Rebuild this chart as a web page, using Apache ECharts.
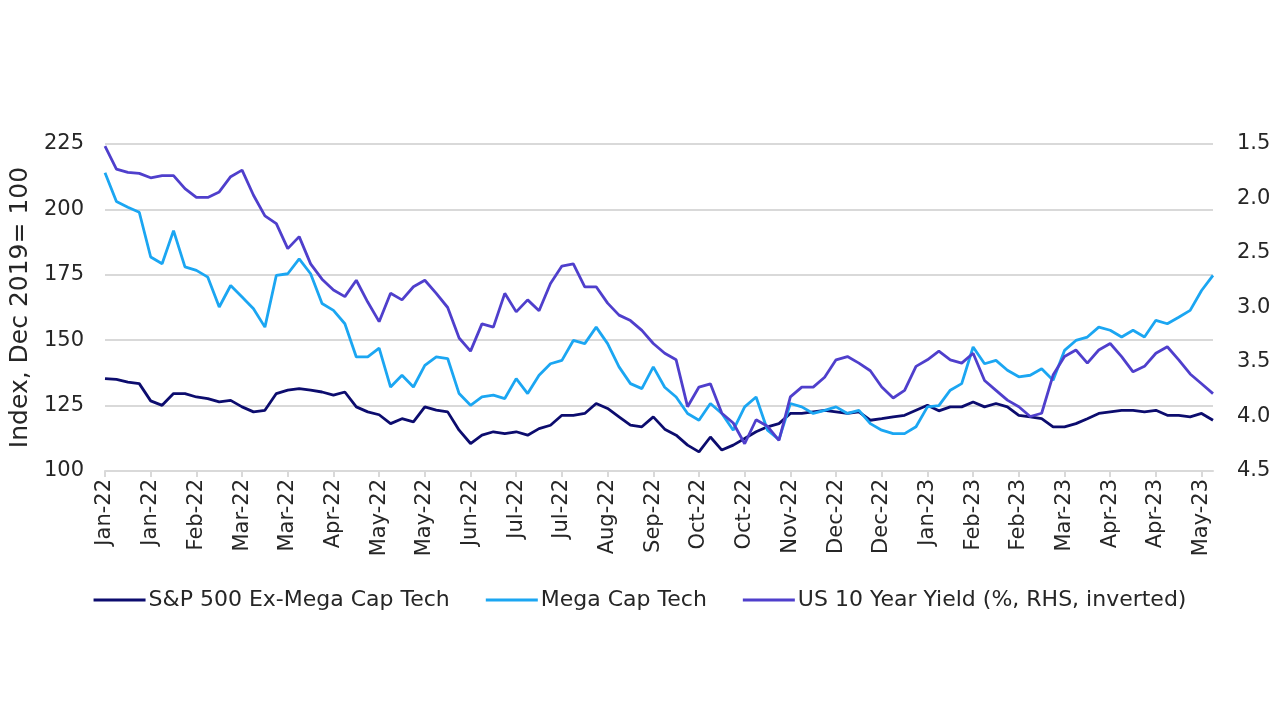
<!DOCTYPE html>
<html>
<head>
    <meta charset="UTF-8">
    <title>Mega Cap Tech vs US 10 Year Yield</title>
    <script src="https://cdn.jsdelivr.net/npm/echarts@6/dist/echarts.min.js"></script>
    <style>
        html, body { margin: 0; padding: 0; background: #ffffff; }
    </style>
</head>
<body>
<div id="main" style="width: 1280px;height:720px;"></div>
<script type="text/javascript">
    // tick labels, one every 4 points
    const tickLabels = ['Jan-22', 'Jan-22', 'Feb-22', 'Mar-22', 'Mar-22', 'Apr-22', 'May-22', 'May-22',
        'Jun-22', 'Jul-22', 'Jul-22', 'Aug-22', 'Sep-22', 'Oct-22', 'Oct-22', 'Nov-22', 'Dec-22',
        'Dec-22', 'Jan-23', 'Feb-23', 'Feb-23', 'Mar-23', 'Apr-23', 'Apr-23', 'May-23'];

    // S&P 500 Ex-Mega Cap Tech (left axis)
    const spExMega = [135.3, 135, 134, 133.4, 126.8, 125.1, 129.6, 129.6, 128.3, 127.7,
        126.4, 127, 124.5, 122.6, 123.2, 129.6, 130.9, 131.5, 130.9, 130.2,
        129, 130.2, 124.5, 122.6, 121.5, 118.1, 120, 118.8, 124.5, 123.3,
        122.6, 115.6, 110.5, 113.7, 115, 114.3, 115, 113.7, 116.2, 117.5,
        121.3, 121.3, 122, 125.8, 123.9, 120.7, 117.5, 116.9, 120.7, 116,
        113.7, 109.9, 107.3, 113, 108, 109.9, 112.4, 115, 116.9, 118.1,
        122, 122, 122.6, 123.2, 122.6, 122, 122.6, 119.4, 120, 120.7,
        121.3, 123.2, 125.1, 123, 124.5, 124.5, 126.4, 124.5, 125.8, 124.5,
        121.3, 120.7, 120, 116.9, 116.9, 118.1, 120, 122, 122.6, 123.2,
        123.2, 122.6, 123.2, 121.3, 121.3, 120.7, 122, 119.4];

    // Mega Cap Tech (left axis)
    const megaCap = [214, 203, 200.8, 198.9, 181.8, 179.2, 191.9, 178, 176.7, 174.1,
        162.7, 170.9, 166.5, 162, 155, 174.8, 175.4, 181.1, 175.4, 164,
        161.4, 156.3, 143.6, 143.6, 147, 132.1, 136.6, 132.1, 140.4, 143.6,
        143, 129.6, 125.1, 128.3, 129, 127.7, 135.3, 129.6, 136.6, 141,
        142.3, 149.9, 148.7, 155, 148.7, 139.8, 133.4, 131.5, 139.8, 132,
        128.3, 122, 119.4, 125.8, 122, 115.6, 124.5, 128.3, 115.6, 112,
        125.8, 124.5, 122, 123.2, 124.5, 122, 123.2, 118.1, 115.6, 114.3,
        114.3, 116.9, 124.5, 125, 130.9, 133.4, 147.4, 141, 142.3, 138.5,
        136, 136.6, 139.1, 134.7, 146.1, 149.9, 151.2, 155, 153.8, 151.2,
        153.8, 151.2, 157.6, 156.3, 158.8, 161.4, 169, 174.8];

    // US 10 Year Yield, % (right axis, inverted)
    const us10y = [1.52, 1.73, 1.76, 1.77, 1.81, 1.79, 1.79, 1.91, 1.99, 1.99,
        1.94, 1.80, 1.74, 1.97, 2.16, 2.23, 2.46, 2.35, 2.6, 2.74,
        2.84, 2.9, 2.75, 2.95, 3.13, 2.87, 2.93, 2.81, 2.75, 2.87,
        3.0, 3.28, 3.4, 3.15, 3.18, 2.87, 3.04, 2.93, 3.03, 2.78,
        2.62, 2.6, 2.81, 2.81, 2.96, 3.07, 3.12, 3.21, 3.33, 3.42,
        3.48, 3.91, 3.73, 3.7, 3.97, 4.06, 4.25, 4.03, 4.09, 4.22,
        3.82, 3.73, 3.73, 3.64, 3.48, 3.45, 3.51, 3.58, 3.73, 3.83,
        3.76, 3.54, 3.48, 3.40, 3.48, 3.51, 3.42, 3.67, 3.76, 3.85,
        3.91, 4.0, 3.97, 3.62, 3.45, 3.39, 3.51, 3.39, 3.33, 3.45,
        3.59, 3.54, 3.42, 3.36, 3.48, 3.61, 3.7, 3.79];

    const seriesNames = ['S&P 500 Ex-Mega Cap Tech', 'Mega Cap Tech', 'US 10 Year Yield (%, RHS, inverted)'];
    const colors = ['#0c0c6e', '#1ba6f2', '#4f3fcc'];

    const perTick = 4;
    const categories = spExMega.map((_, i) => String(i));

    const font = 'DejaVu Sans';
    const textColor = '#262626';
    const gridColor = '#d9d9d9';

    var myChart = echarts.init(document.getElementById('main'));

    let option = {
        animation: false,
        backgroundColor: '#ffffff',
        color: colors,
        grid: {
            left: 103,
            right: 67,
            top: 144,
            bottom: 249
        },
        legend: {
            top: 584,
            left: 'center',
            icon: 'rect',
            itemWidth: 52,
            itemHeight: 3,
            itemGap: 36,
            textStyle: {
                fontFamily: font,
                fontSize: 22,
                color: textColor,
                padding: [0, 0, 0, -2]
            },
            data: seriesNames
        },
        xAxis: {
            type: 'category',
            boundaryGap: false,
            data: categories,
            axisLine: {lineStyle: {color: gridColor, width: 2}},
            axisTick: {
                interval: perTick - 1,
                length: 6,
                lineStyle: {color: gridColor, width: 2}
            },
            axisLabel: {
                interval: perTick - 1,
                rotate: 90,
                margin: 8,
                fontFamily: font,
                fontSize: 21,
                color: textColor,
                formatter: (v, idx) => tickLabels[idx / perTick] || ''
            },
            splitLine: {show: false}
        },
        yAxis: [
            {
                type: 'value',
                min: 100,
                max: 225,
                interval: 25,
                name: 'Index, Dec 2019= 100',
                nameLocation: 'middle',
                nameGap: 72,
                nameTextStyle: {fontFamily: font, fontSize: 25, color: textColor},
                axisLine: {show: false},
                axisTick: {show: false},
                axisLabel: {fontFamily: font, fontSize: 21, color: textColor, margin: 21},
                splitLine: {lineStyle: {color: gridColor, width: 2}}
            },
            {
                type: 'value',
                min: 1.5,
                max: 4.5,
                interval: 0.5,
                inverse: true,
                axisLine: {show: false},
                axisTick: {show: false},
                axisLabel: {
                    fontFamily: font, fontSize: 21, color: textColor, margin: 24,
                    formatter: v => v.toFixed(1)
                },
                splitLine: {show: false}
            }
        ],
        series: [
            {
                name: seriesNames[0],
                type: 'line',
                yAxisIndex: 0,
                symbol: 'none',
                lineStyle: {width: 2.8},
                data: spExMega
            },
            {
                name: seriesNames[1],
                type: 'line',
                yAxisIndex: 0,
                symbol: 'none',
                lineStyle: {width: 2.8},
                data: megaCap
            },
            {
                name: seriesNames[2],
                type: 'line',
                yAxisIndex: 1,
                symbol: 'none',
                lineStyle: {width: 2.8},
                data: us10y
            }
        ]
    };

    myChart.setOption(option);
</script>
</body>
</html>
